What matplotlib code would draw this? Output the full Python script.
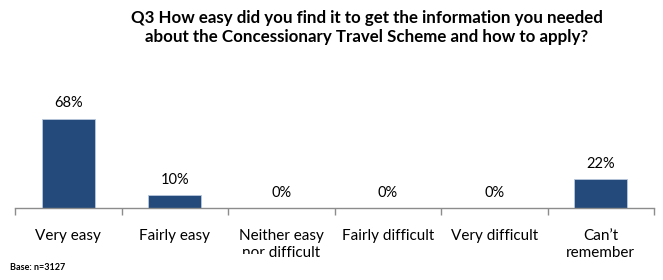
import matplotlib
matplotlib.use("Agg")
import matplotlib.pyplot as plt
from matplotlib.patches import Rectangle

categories = ["Very easy", "Fairly easy", "Neither easy\nnor difficult",
              "Fairly difficult", "Very difficult", "Can\u2019t\nremember"]
values = [68, 10, 0, 0, 0, 22]
value_labels = ["68%", "10%", "0%", "0%", "0%", "22%"]
title = ("Q3 How easy did you find it to get the information you needed\n"
         "about the Concessionary Travel Scheme and how to apply?")
base_note = "Base: n=3127"

plt.rcParams['font.family'] = ['Lato', 'DejaVu Sans']

W, H = 663, 280
fig = plt.figure(figsize=(W / 100, H / 100), dpi=100)
left, right = 15, 654
axis_y = 208
top_y = 103
ax = fig.add_axes([left / W, (H - axis_y) / H, (right - left) / W, (axis_y - top_y) / H])

x = list(range(len(categories)))
ax.bar(x, values, width=0.5, color="#234A7B", edgecolor="#B9C7DA", linewidth=0.6, zorder=2)
ax.set_xlim(-0.5, len(categories) - 0.5)
ax.set_ylim(0, 80)

for xi, v, lab in zip(x, values, value_labels):
    ax.annotate(lab, (xi, v), xytext=(0, 6), textcoords="offset points",
                ha="center", va="bottom", fontsize=10.5, color="black")

for s in ["top", "right", "left"]:
    ax.spines[s].set_visible(False)
ax.spines["bottom"].set_color("#8C8C8C")
ax.spines["bottom"].set_linewidth(1.0)
ax.set_yticks([])

ax.set_xticks(x)
ax.set_xticklabels(categories, fontsize=11, linespacing=1.3, va="top")
ax.tick_params(axis="x", which="major", length=0, pad=15)
ax.set_xticks([i - 0.5 for i in range(len(categories) + 1)], minor=True)
ax.tick_params(axis="x", which="minor", length=5, color="#8C8C8C", width=1.0, direction="out")

fig.text(367 / W, 1 - 10 / H, title, ha="center", va="top", fontsize=12.2,
         fontweight="bold", linespacing=1.25)

# white box behind the base note (it covers part of a category label)
fig.add_artist(Rectangle((0, 0), 262 / W, (H - 254) / H, transform=fig.transFigure,
                         facecolor="white", edgecolor="none", zorder=5))
fig.text(10 / W, 1 - 268 / H, base_note, ha="left", va="center", fontsize=6.5,
         fontweight="bold", zorder=6)

fig.savefig("out.png", dpi=100)
